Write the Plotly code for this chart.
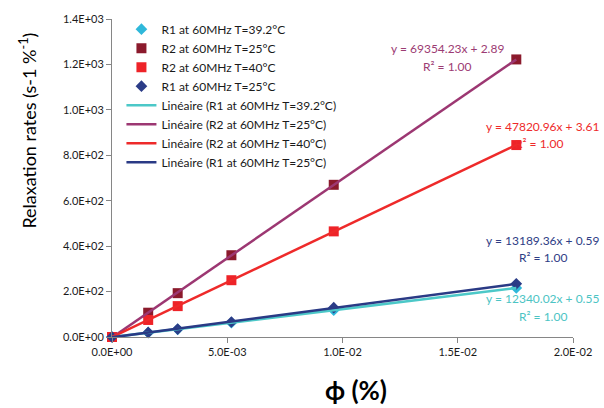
import numpy as np
import plotly.graph_objects as go

# ---- data ----
phi = [0.0, 0.00157, 0.00285, 0.00518, 0.00962, 0.01754]
r1_392 = [0.0, 19, 34, 63, 118, 216]
r2_25 = [0.0, 107, 193, 360, 670, 1222]
r2_40 = [0.0, 75, 136, 250, 465, 845]
r1_25 = [0.0, 20, 35, 66, 129, 234]

series_names = ["R1 at 60MHz T=39.2°C", "R2 at 60MHz T=25°C",
                "R2 at 60MHz T=40°C", "R1 at 60MHz T=25°C"]
fit_names = ["Linéaire (" + n + ")" for n in series_names]
eq_texts = ["y = 12340.02x + 0.55", "y = 69354.23x + 2.89",
            "y = 47820.96x + 3.61", "y = 13189.36x + 0.59"]
r2_texts = ["R² = 1.00"] * 4

y_tickvals = [0, 200, 400, 600, 800, 1000, 1200, 1400]
y_ticktext = ["0.0E+00", "2.0E+02", "4.0E+02", "6.0E+02", "8.0E+02",
              "1.0E+03", "1.2E+03", "1.4E+03"]
x_tickvals = [0, 0.005, 0.01, 0.015, 0.02]
x_ticktext = ["0.0E+00", "5.0E-03", "1.0E-02", "1.5E-02", "2.0E-02"]

# ---- styles ----
marker_colors = ["#2FB8DA", "#8B1A2C", "#EE2328", "#2B3C87"]
marker_symbols = ["diamond", "square", "square", "diamond"]
marker_sizes = [9, 10, 10, 9]
line_colors = ["#4CC8C8", "#9C3772", "#EE2A2A", "#2A3A85"]
label_colors = ["#4CC4C4", "#9C3B73", "#EE2A2A", "#2E3D85"]

FONT = "Lato"
ys = [r1_392, r2_25, r2_40, r1_25]

fig = go.Figure()
for name, y, c, s, sz in zip(series_names, ys, marker_colors, marker_symbols, marker_sizes):
    fig.add_trace(go.Scatter(x=phi, y=y, mode="markers", name=name,
                             marker=dict(color=c, symbol=s, size=sz,
                                         line=dict(width=0)),
                             cliponaxis=False))
for name, y, c in zip(fit_names, ys, line_colors):
    slope, icpt = np.polyfit(phi, y, 1)
    xl = [min(phi), max(phi)]
    yl = [slope * v + icpt for v in xl]
    fig.add_trace(go.Scatter(x=xl, y=yl, mode="lines", name=name,
                             line=dict(color=c, width=2.5), cliponaxis=False))

# plot-area geometry (pixels) for placing annotations
L, R, T, B = 111.5, 575.5, 18.3, 336.7


def px(x):
    return (x - L) / (R - L)


def py(y):
    return (B - y) / (B - T)


# equation label positions (pixel centres)
eq_pos = [(545, 298), (449, 48), (545, 126), (545, 240)]
r2_pos = [(545, 316), (449, 66), (541, 143), (545, 257)]

for txt, (x, y), c in zip(eq_texts, eq_pos, label_colors):
    fig.add_annotation(text=txt, x=px(x), y=py(y), xref="paper", yref="paper",
                       showarrow=False, xanchor="center", yanchor="middle",
                       font=dict(family=FONT, size=12, color=c))
for txt, (x, y), c in zip(r2_texts, r2_pos, label_colors):
    fig.add_annotation(text=txt, x=px(x), y=py(y), xref="paper", yref="paper",
                       showarrow=False, xanchor="center", yanchor="middle",
                       font=dict(family=FONT, size=12, color=c))

# axis titles
fig.add_annotation(text="Relaxation rates (s-1 %<sup>-1</sup>)", x=px(27), y=py(130),
                   xref="paper", yref="paper", showarrow=False, textangle=-90,
                   xanchor="center", yanchor="middle",
                   font=dict(family=FONT, size=18, color="#000000"))
fig.add_annotation(text="<b>ϕ (%)</b>", x=px(357), y=py(390),
                   xref="paper", yref="paper", showarrow=False,
                   xanchor="center", yanchor="middle",
                   font=dict(family=FONT, size=26, color="#000000"))

axis_common = dict(showgrid=False, zeroline=False, showline=True,
                   linecolor="#868686", linewidth=1, ticks="outside",
                   ticklen=5, tickcolor="#868686", tickwidth=1,
                   tickfont=dict(family=FONT, size=11, color="#1a1a1a"))

fig.update_xaxes(range=[0, 0.02], tickvals=x_tickvals, ticktext=x_ticktext,
                 **axis_common)
fig.update_yaxes(range=[0, 1400], tickvals=y_tickvals, ticktext=y_ticktext,
                 **axis_common)

fig.update_layout(
    width=604, height=408,
    margin=dict(l=L, r=604 - R, t=T, b=408 - B, pad=0),
    paper_bgcolor="white", plot_bgcolor="white",
    font=dict(family=FONT, size=12, color="#1a1a1a"),
    legend=dict(x=px(121), y=py(14), xanchor="left", yanchor="top",
                bgcolor="rgba(0,0,0,0)", font=dict(family=FONT, size=12, color="#1a1a1a"),
                traceorder="normal", itemwidth=30),
    showlegend=True,
)

fig.write_html("out.html", config={"displayModeBar": False},
               post_script="document.body.style.margin='0px';document.body.style.overflow='hidden';")
